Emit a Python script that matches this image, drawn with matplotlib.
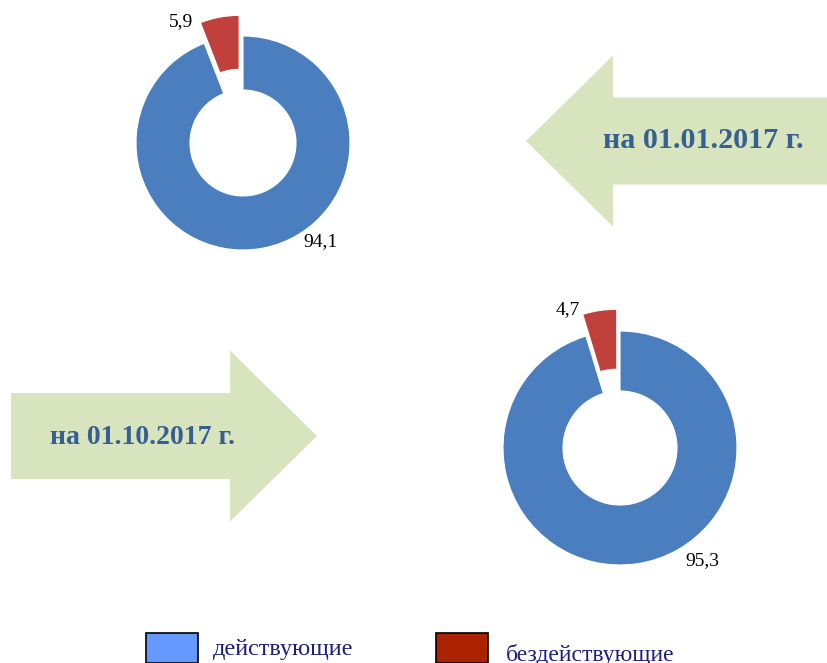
import numpy as np
import matplotlib.pyplot as plt
from matplotlib.patches import FancyArrow, Rectangle

# Datos: participación (%) de los sujetos en cada fecha
categorias = ['действующие', 'бездействующие']
fechas = ['на 01.01.2017 г.', 'на 01.10.2017 г.']
valores_ene = [94.1, 5.9]
valores_oct = [95.3, 4.7]

color_act = '#4a7ebf'
color_inact = '#c0413c'
color_leg = ['#6699ff', '#aa2200']
color_flecha = '#d7e4bd'
color_texto = '#366092'

W, H = 827, 663

def Y(y):
    # coordenadas de la imagen (y hacia abajo) -> ejes (y hacia arriba)
    return H - y

def fmt(v):
    return f'{v:.1f}'.replace('.', ',')

def dibujar_dona(ax, valores, centro, radio, ancho, explode, pos_labels):
    ax.pie(valores, center=centro, radius=radio, startangle=90, counterclock=False,
           colors=[color_act, color_inact], explode=[0, explode],
           wedgeprops=dict(width=ancho, edgecolor='white', linewidth=0.8))
    for v, (px, py) in zip(valores, pos_labels):
        ax.text(px, py, fmt(v), ha='center', va='center', fontsize=14,
                family='Liberation Serif', color='black')

fig = plt.figure(figsize=(W / 100, H / 100), dpi=100)
ax = fig.add_axes([0, 0, 1, 1])
ax.set_xlim(0, W)
ax.set_ylim(0, H)
ax.set_aspect('equal')
ax.axis('off')

# Flechas con la fecha
ax.add_patch(FancyArrow(W, Y(141), 526 - W, 0, width=87, head_width=171, head_length=87,
                        length_includes_head=True, color=color_flecha, lw=0))
ax.text(703, Y(141), fechas[0], ha='center', va='center', fontsize=21.7, fontweight='bold',
        family='Liberation Serif', color=color_texto)

ax.add_patch(FancyArrow(11, Y(436), 306, 0, width=86, head_width=171, head_length=87,
                        length_includes_head=True, color=color_flecha, lw=0))
ax.text(143, Y(438), fechas[1], ha='center', va='center', fontsize=20, fontweight='bold',
        family='Liberation Serif', color=color_texto)

# Donas
dibujar_dona(ax, valores_ene, (243, Y(143)), 107, 54, 21,
             [(321, Y(242)), (181, Y(22))])
dibujar_dona(ax, valores_oct, (620, Y(448)), 117, 60, 22,
             [(702, Y(561)), (568, Y(310))])

# Leyenda
ax.add_patch(Rectangle((146, Y(663)), 52, 30, facecolor=color_leg[0], edgecolor='black', lw=1.2))
ax.text(213, Y(649), categorias[0], ha='left', va='center', fontsize=17.5,
        family='Liberation Serif', color='#1f1f7a')
ax.add_patch(Rectangle((436, Y(663)), 52, 30, facecolor=color_leg[1], edgecolor='black', lw=1.2))
ax.text(506, Y(655), categorias[1], ha='left', va='center', fontsize=17,
        family='Liberation Serif', color='#1f1f7a')

ax.set_xlim(0, W)
ax.set_ylim(0, H)
fig.savefig('out.png', dpi=100)
